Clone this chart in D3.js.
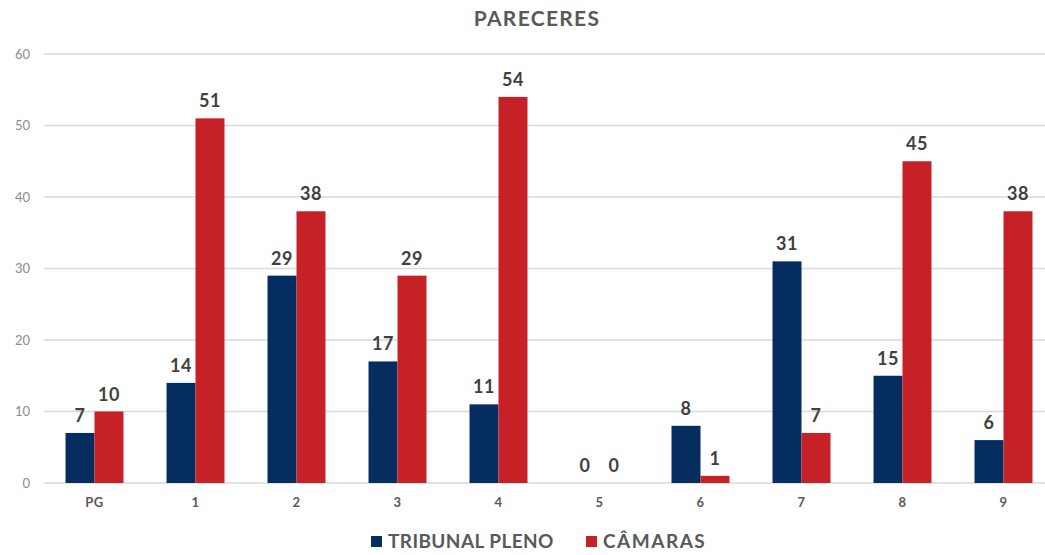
<!DOCTYPE html>
<html>
<head>
<meta charset="utf-8">
<script src="https://cdn.jsdelivr.net/npm/d3@7"></script>
<style>
  body { margin: 0; background: #fff; }
  svg { display: block; font-family: "Lato", "DejaVu Sans", sans-serif; }
</style>
</head>
<body>
<div id="chart"></div>
<script>
    "use strict";
    // data
    var categories = ["PG", "1", "2", "3", "4", "5", "6", "7", "8", "9"];
    var tribunalPleno = [7, 14, 29, 17, 11, 0, 8, 31, 15, 6];
    var camaras = [10, 51, 38, 29, 54, 0, 1, 7, 45, 38];
    var seriesNames = ["TRIBUNAL PLENO", "CÂMARAS"];
    var yTicks = [0, 10, 20, 30, 40, 50, 60];

    var width = 1045, height = 555;
    var colors = ["#062d5f", "#c62127"];

    var svg = d3.select("#chart").append("svg")
        .attr("width", width)
        .attr("height", height);

    var x = d3.scaleBand().domain(categories).range([44, 1054]).paddingInner(0.426).paddingOuter(0.213);
    var y = d3.scaleLinear().domain([0, 60]).range([483, 54]);
    var xs = d3.scaleBand().domain([0, 1]).range([0, x.bandwidth()]);

    //title
    svg.append("text")
        .attr("x", 537).attr("y", 26)
        .attr("text-anchor", "middle")
        .attr("font-size", "21px").attr("font-weight", "bold")
        .attr("letter-spacing", "1.3px")
        .attr("fill", "#595959")
        .text("PARECERES");

    //gridlines
    svg.append("g").selectAll("line")
        .data(yTicks).enter().append("line")
        .attr("x1", 44).attr("x2", width)
        .attr("y1", function(d){ return y(d); })
        .attr("y2", function(d){ return y(d); })
        .attr("stroke", "#d9d9d9").attr("stroke-width", 1.5);

    //y axis labels
    var yAxis = svg.append("g").attr("transform", "translate(30,0)")
        .call(d3.axisLeft(y).tickValues(yTicks).tickSize(0).tickPadding(0));
    yAxis.select(".domain").remove();
    yAxis.selectAll("text").attr("font-size", "13px").attr("fill", "#8c8c8c")
        .attr("font-family", "Lato, sans-serif");

    //x axis labels
    var xAxis = svg.append("g").attr("transform", "translate(0,494)")
        .call(d3.axisBottom(x).tickSize(0).tickPadding(4));
    xAxis.select(".domain").remove();
    xAxis.selectAll("text").attr("font-size", "13px").attr("font-weight", "bold")
        .attr("letter-spacing", "0.5px")
        .attr("fill", "#595959").attr("font-family", "Lato, sans-serif");

    var rows = categories.map(function(c, i){
        return { cat: c, values: [tribunalPleno[i], camaras[i]] };
    });

    var groups = svg.append("g").selectAll("g.cat")
        .data(rows).enter().append("g")
        .attr("class", "cat")
        .attr("transform", function(d){ return "translate(" + x(d.cat) + ",0)"; });

    groups.selectAll("rect")
        .data(function(d){ return d.values; })
        .enter().append("rect")
        .attr("x", function(d, i){ return xs(i); })
        .attr("width", xs.bandwidth())
        .attr("y", function(d){ return y(d); })
        .attr("height", function(d){ return y(0) - y(d); })
        .attr("fill", function(d, i){ return colors[i]; });

    groups.selectAll("text.val")
        .data(function(d){ return d.values; })
        .enter().append("text")
        .attr("class", "val")
        .attr("x", function(d, i){ return xs(i) + xs.bandwidth() / 2; })
        .attr("y", function(d){ return y(d) - 11; })
        .attr("text-anchor", "middle")
        .attr("font-size", "18px").attr("font-weight", "bold")
        .attr("letter-spacing", "0.5px")
        .attr("fill", "#404040")
        .text(function(d){ return d; });

    //legend
    var legendX = [371, 586];
    var legend = svg.append("g").selectAll("g.leg")
        .data(seriesNames).enter().append("g")
        .attr("class", "leg")
        .attr("transform", function(d, i){ return "translate(" + legendX[i] + ",536)"; });
    legend.append("rect")
        .attr("width", 11).attr("height", 11)
        .attr("fill", function(d, i){ return colors[i]; });
    legend.append("text")
        .attr("x", 17).attr("y", 12)
        .attr("font-size", "19px").attr("font-weight", "bold")
        .attr("letter-spacing", function(d, i){ return i === 0 ? "0.4px" : "1.5px"; })
        .attr("fill", "#595959")
        .text(function(d){ return d; });
</script>
</body>
</html>
